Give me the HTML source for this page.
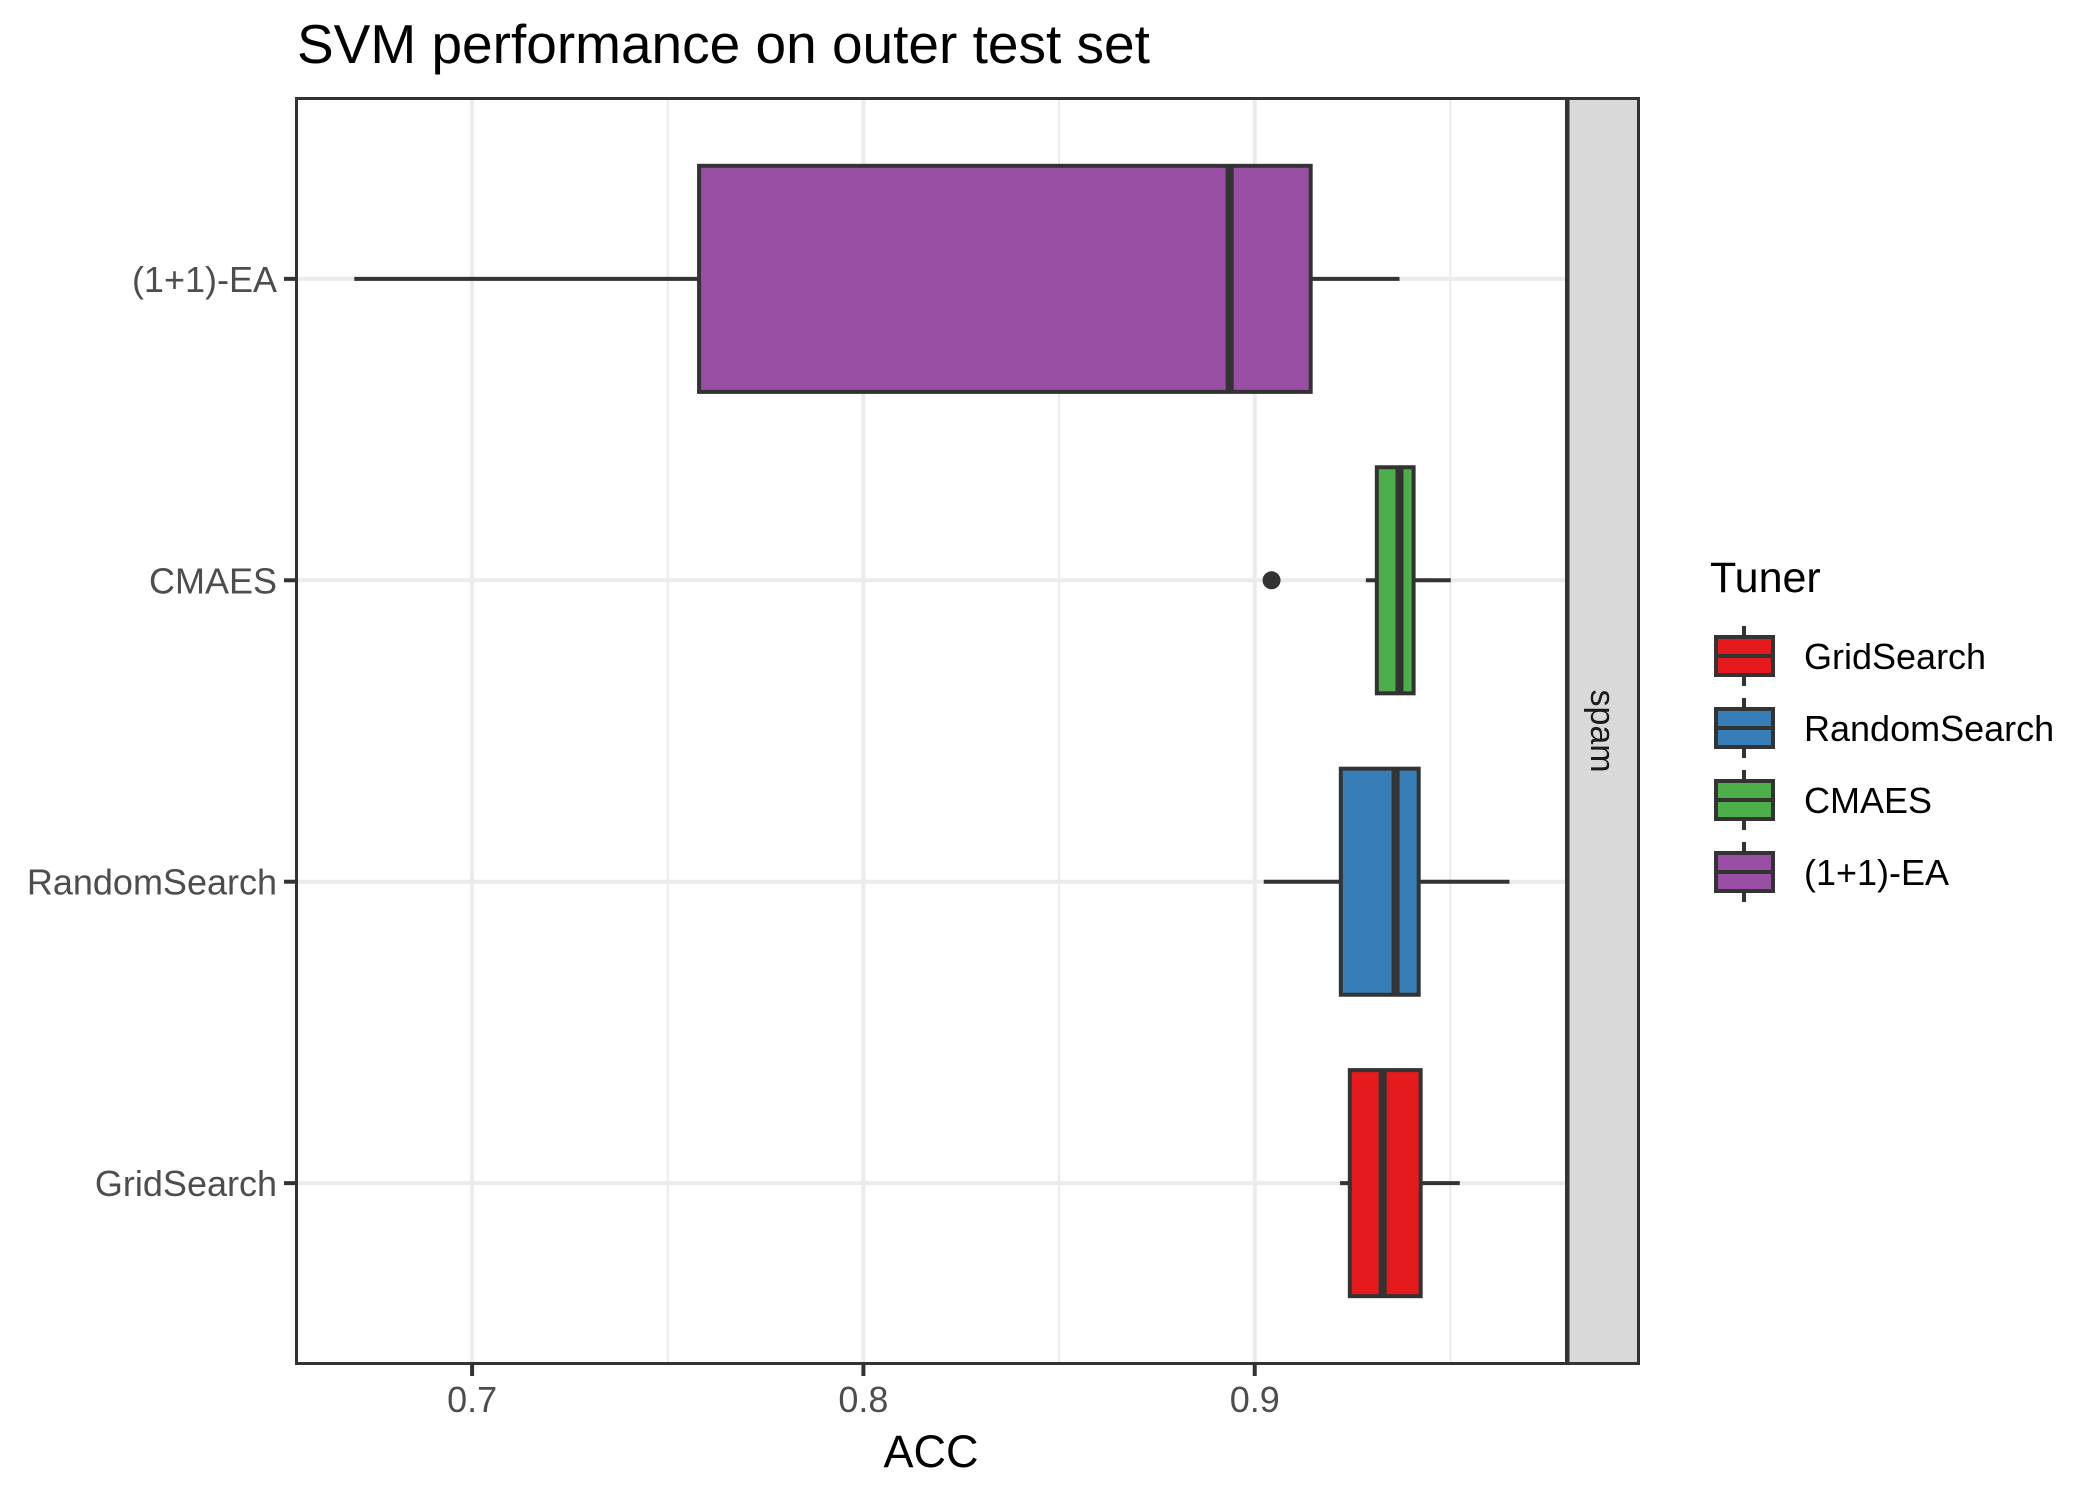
<!DOCTYPE html>
<html><head><meta charset="utf-8"><style>
html,body{margin:0;padding:0;background:#fff;}
svg{display:block;font-family:"Liberation Sans",sans-serif;}
</style></head><body>
<svg id="chart" width="2100" height="1500" viewBox="0 0 2100 1500">
<text x="297" y="63" font-size="55" fill="#000">SVM performance on outer test set</text>
<g id="grid"></g>
<g id="boxes"></g>
<rect x="296.5" y="98.5" width="1270" height="1265" fill="none" stroke="#333" stroke-width="3"/>
<rect x="1568" y="98.5" width="70.5" height="1265" fill="#d9d9d9" stroke="#333" stroke-width="3"/>
<text transform="translate(1591,731) rotate(90)" text-anchor="middle" font-size="34" fill="#1a1a1a">spam</text>
<g id="axes"></g>
<text x="931" y="1467" text-anchor="middle" font-size="45" fill="#000">ACC</text>
<text x="1710" y="592" font-size="43" fill="#000">Tuner</text>
<g id="legend"></g>
</svg>
<script>
const categories = ["GridSearch","RandomSearch","CMAES","(1+1)-EA"];
const colors = ["#e41a1c","#377eb8","#4daf4a","#984ea3"];
const whiskerLow = [0.9218,0.9023,0.9284,0.6699];
const q1 = [0.9243,0.9220,0.9312,0.7580];
const median = [0.9327,0.9360,0.9370,0.8936];
const q3 = [0.9424,0.9419,0.9406,0.9143];
const whiskerHigh = [0.9524,0.9651,0.9501,0.9370];
const outliers = [[],[],[0.9043],[]];
const xMajorTicks = [0.7,0.8,0.9];
const xMinorTicks = [0.75,0.85,0.95];
const xTickLabels = ["0.7","0.8","0.9"];

const NS="http://www.w3.org/2000/svg";
const PL=296, PR=1567, PT=98, PB=1364;
const X0=0.655, X1=0.9798;
const x = v => PL + (v - X0) / (X1 - X0) * (PR - PL);
const unit = (PB-PT)/(categories.length - 1 + 1.2);
const y = i => PB - (0.6 + i) * unit;
function mk(tag, attrs, parent){const e=document.createElementNS(NS,tag);for(const k in attrs)e.setAttribute(k,attrs[k]);parent.appendChild(e);return e;}
const grid=document.getElementById('grid'), boxes=document.getElementById('boxes'), axes=document.getElementById('axes'), legend=document.getElementById('legend');

xMinorTicks.forEach(t=>{const l=mk('line',{x1:x(t),x2:x(t),y1:PT,y2:PB,stroke:'#ebebeb','stroke-width':2},grid);

});
xMajorTicks.forEach((t,i)=>{const l=mk('line',{x1:x(t),x2:x(t),y1:PT,y2:PB,stroke:'#ebebeb','stroke-width':4},grid);


const tk=mk('line',{x1:x(t),x2:x(t),y1:PB,y2:PB+12,stroke:'#333','stroke-width':4},axes);


const tl=mk('text',{x:x(t),y:1412,'text-anchor':'middle','font-size':36,fill:'#4d4d4d'},axes);tl.textContent=xTickLabels[i];

});
categories.forEach((c,i)=>{const l=mk('line',{x1:PL,x2:PR,y1:y(i),y2:y(i),stroke:'#ebebeb','stroke-width':4},grid);


const tk=mk('line',{x1:PL-12,x2:PL,y1:y(i),y2:y(i),stroke:'#333','stroke-width':4},axes);


const tl=mk('text',{x:277,y:y(i)+13,'text-anchor':'end','font-size':36,fill:'#4d4d4d'},axes);tl.textContent=c;

});

const bh=0.75*unit;
categories.forEach((c,i)=>{
 const g=mk('g',{},boxes);
 
 
 const cy=y(i);
 mk('line',{x1:x(whiskerLow[i]),x2:x(q1[i]),y1:cy,y2:cy,stroke:'#333','stroke-width':4},g);
 mk('line',{x1:x(q3[i]),x2:x(whiskerHigh[i]),y1:cy,y2:cy,stroke:'#333','stroke-width':4},g);
 mk('rect',{x:x(q1[i]),y:cy-bh/2,width:x(q3[i])-x(q1[i]),height:bh,fill:colors[i],stroke:'#333','stroke-width':4},g);
 mk('line',{x1:x(median[i]),x2:x(median[i]),y1:cy-bh/2,y2:cy+bh/2,stroke:'#333','stroke-width':8},g);
 outliers[i].forEach(o=>{const p=mk('circle',{cx:x(o),cy:cy,r:9,fill:'#333'},g);
 
 });
 const ly=656+i*72;
 const lg=mk('g',{},legend);
 
 
 mk('line',{x1:1744,x2:1744,y1:ly-30,y2:ly+30,stroke:'#333','stroke-width':4},lg);
 mk('rect',{x:1716,y:ly-19,width:57,height:38,fill:colors[i],stroke:'#333','stroke-width':4},lg);
 mk('line',{x1:1716,x2:1773,y1:ly,y2:ly,stroke:'#333','stroke-width':4},lg);
 const t=mk('text',{x:1804,y:ly+13,'font-size':36,fill:'#000'},lg);t.textContent=c;
});
</script>
</body></html>
